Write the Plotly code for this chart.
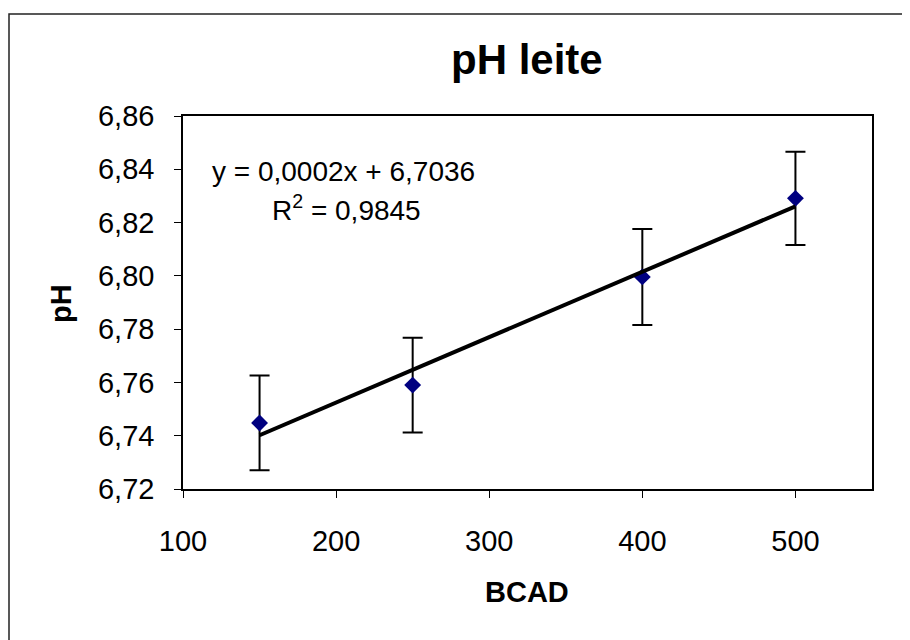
import numpy as np
import plotly.graph_objects as go

# dados
bcad = [150, 250, 400, 500]
ph = [6.7448, 6.7590, 6.7996, 6.8291]
erro = [0.0178, 0.0178, 0.0180, 0.0175]

eq_texto = "y = 0,0002x + 6,7036"
r2_texto = "R<sup>2</sup> = 0,9845"

FONTE = "Liberation Sans, Arial, sans-serif"

# área do gráfico em pixels da página (a página tem margem de 8px)
PL, PR, PT, PB = 183, 872, 116, 489


def px(xp):
    return (xp - PL) / (PR - PL)


def py(yp):
    return (PB - yp) / (PB - PT)


# linha de tendência linear
coef = np.polyfit(bcad, ph, 1)
x_lin = np.array([min(bcad), max(bcad)])
y_lin = np.polyval(coef, x_lin)

fig = go.Figure()
fig.add_trace(go.Scatter(
    x=bcad, y=ph, mode="markers",
    marker=dict(symbol="diamond", size=13, color="#000080"),
    error_y=dict(type="data", array=erro, visible=True,
                 color="black", thickness=2, width=10),
    showlegend=False,
))
fig.add_trace(go.Scatter(
    x=x_lin, y=y_lin, mode="lines",
    line=dict(color="black", width=4),
    showlegend=False,
))

fig.update_layout(
    width=902, height=632,
    margin=dict(l=PL - 8, r=910 - PR, t=PT - 8, b=640 - PB),
    paper_bgcolor="white", plot_bgcolor="white",
    separators=", ",
    font=dict(family=FONTE, size=29, color="black"),
    showlegend=False,
)
fig.update_xaxes(
    range=[100, 550], dtick=100, tick0=100,
    showline=True, linecolor="black", linewidth=1.5, mirror=True,
    ticks="outside", ticklen=7, tickcolor="black", tickwidth=1,
    showgrid=False, zeroline=False,
    ticklabelstandoff=18,
)
fig.update_yaxes(
    range=[6.72, 6.86], dtick=0.02, tick0=6.72, tickformat=".2f",
    showline=True, linecolor="black", linewidth=1.5, mirror=True,
    ticks="outside", ticklen=7, tickcolor="black", tickwidth=1,
    showgrid=False, zeroline=False,
    ticklabelstandoff=14,
)

# título e títulos dos eixos
fig.add_annotation(text="<b>pH leite</b>", xref="paper", yref="paper",
                   x=px(527), y=py(60), showarrow=False,
                   xanchor="center", yanchor="middle",
                   font=dict(size=42))
fig.add_annotation(text="<b>BCAD</b>", xref="paper", yref="paper",
                   x=px(527), y=py(592), showarrow=False,
                   xanchor="center", yanchor="middle",
                   font=dict(size=29))
fig.add_annotation(text="<b>pH</b>", xref="paper", yref="paper",
                   x=px(61), y=py(303), showarrow=False, textangle=-90,
                   xanchor="center", yanchor="middle",
                   font=dict(size=29))

# equação e R²
fig.add_annotation(text=eq_texto, xref="paper", yref="paper",
                   x=px(343), y=py(171), showarrow=False,
                   xanchor="center", yanchor="middle", font=dict(size=28))
fig.add_annotation(text=r2_texto, xref="paper", yref="paper",
                   x=px(346), y=py(208), showarrow=False,
                   xanchor="center", yanchor="middle", font=dict(size=28))

# moldura externa do gráfico
fig.add_shape(type="rect", xref="paper", yref="paper",
              x0=px(9), x1=px(925), y0=py(655), y1=py(14),
              line=dict(color="#222", width=1.5), layer="below")

fig.write_html("out.html")
